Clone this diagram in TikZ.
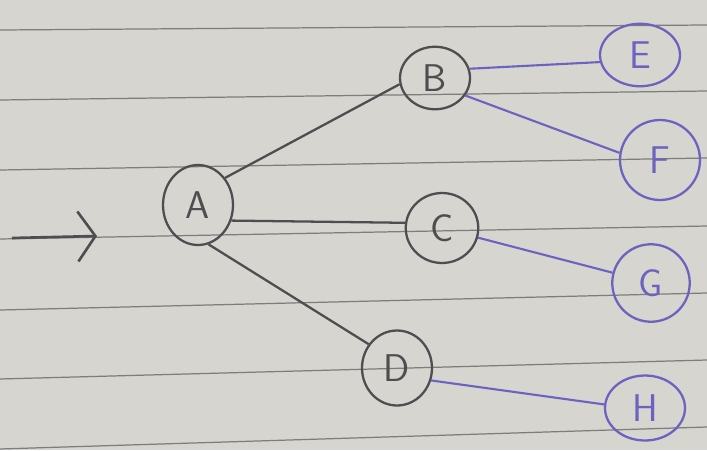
\documentclass[tikz,border=0pt]{standalone}
\usepackage{amsmath,amssymb}
\usepackage{tikz}
\usetikzlibrary{positioning,arrows.meta,shapes.geometric}
\usepackage{xcolor}

\definecolor{paper}{RGB}{214,213,208}
\definecolor{rule}{RGB}{125,125,122}
\definecolor{ink}{RGB}{78,78,80}
\definecolor{violet}{RGB}{108,98,192}

\tikzset{
  vtx/.style={ellipse,draw=ink,line width=1.3pt,text=ink,inner sep=0pt,
    minimum width=1.4cm,minimum height=1.4cm,font=\fontsize{22}{22}\sffamily},
  leaf/.style={vtx,draw=violet,text=violet},
  edge/.style={ink,line width=1.3pt},
  vedge/.style={violet,line width=1.2pt}
}

\begin{document}
\begin{tikzpicture}[x=0.02cm,y=-0.02cm,>={Straight Barb[length=3.5mm,width=10mm]}]
\fill[paper] (0,0) rectangle (707,450);
\useasboundingbox (0,0) rectangle (707,450);
% ruled lines of the notebook
\foreach \l/\r in {30/25,100/91,170/158,239/226,310/293,379/360,449/427}
  \draw[rule,line width=0.7pt] (0,\l) -- (707,\r);

\coordinate (in) at (12,238);
\coordinate (tip) at (97,236);
\draw[->,ink,line width=1.5pt] (in) -- (tip);

\node[vtx,minimum width=1.4cm,minimum height=1.6cm] (a) at (198,205) {A};
\node[vtx,minimum height=1.25cm] (b) at (435,78) {B};
\node[vtx,minimum width=1.45cm] (c) at (442,228) {C};
\node[vtx,minimum height=1.5cm] (d) at (397,368) {D};
\node[leaf,minimum width=1.6cm,minimum height=1.25cm] (e) at (640,55) {E};
\node[leaf,minimum width=1.6cm,minimum height=1.6cm] (f) at (660,160) {F};
\node[leaf,minimum width=1.55cm,minimum height=1.55cm] (g) at (651,283) {G};
\node[leaf,minimum width=1.6cm,minimum height=1.3cm] (h) at (645,408) {H};

\draw[edge] (a.45) -- (b.190);
\draw[edge] (a.-25) -- (c.172);
\draw[edge] (a.-75) -- (d.140);
\draw[vedge] (b.15) -- (e.190);
\draw[vedge] (b.-30) -- (f.170);
\draw[vedge] (c.-15) -- (g.165);
\draw[vedge] (d.-20) -- (h.175);
\end{tikzpicture}
\end{document}
